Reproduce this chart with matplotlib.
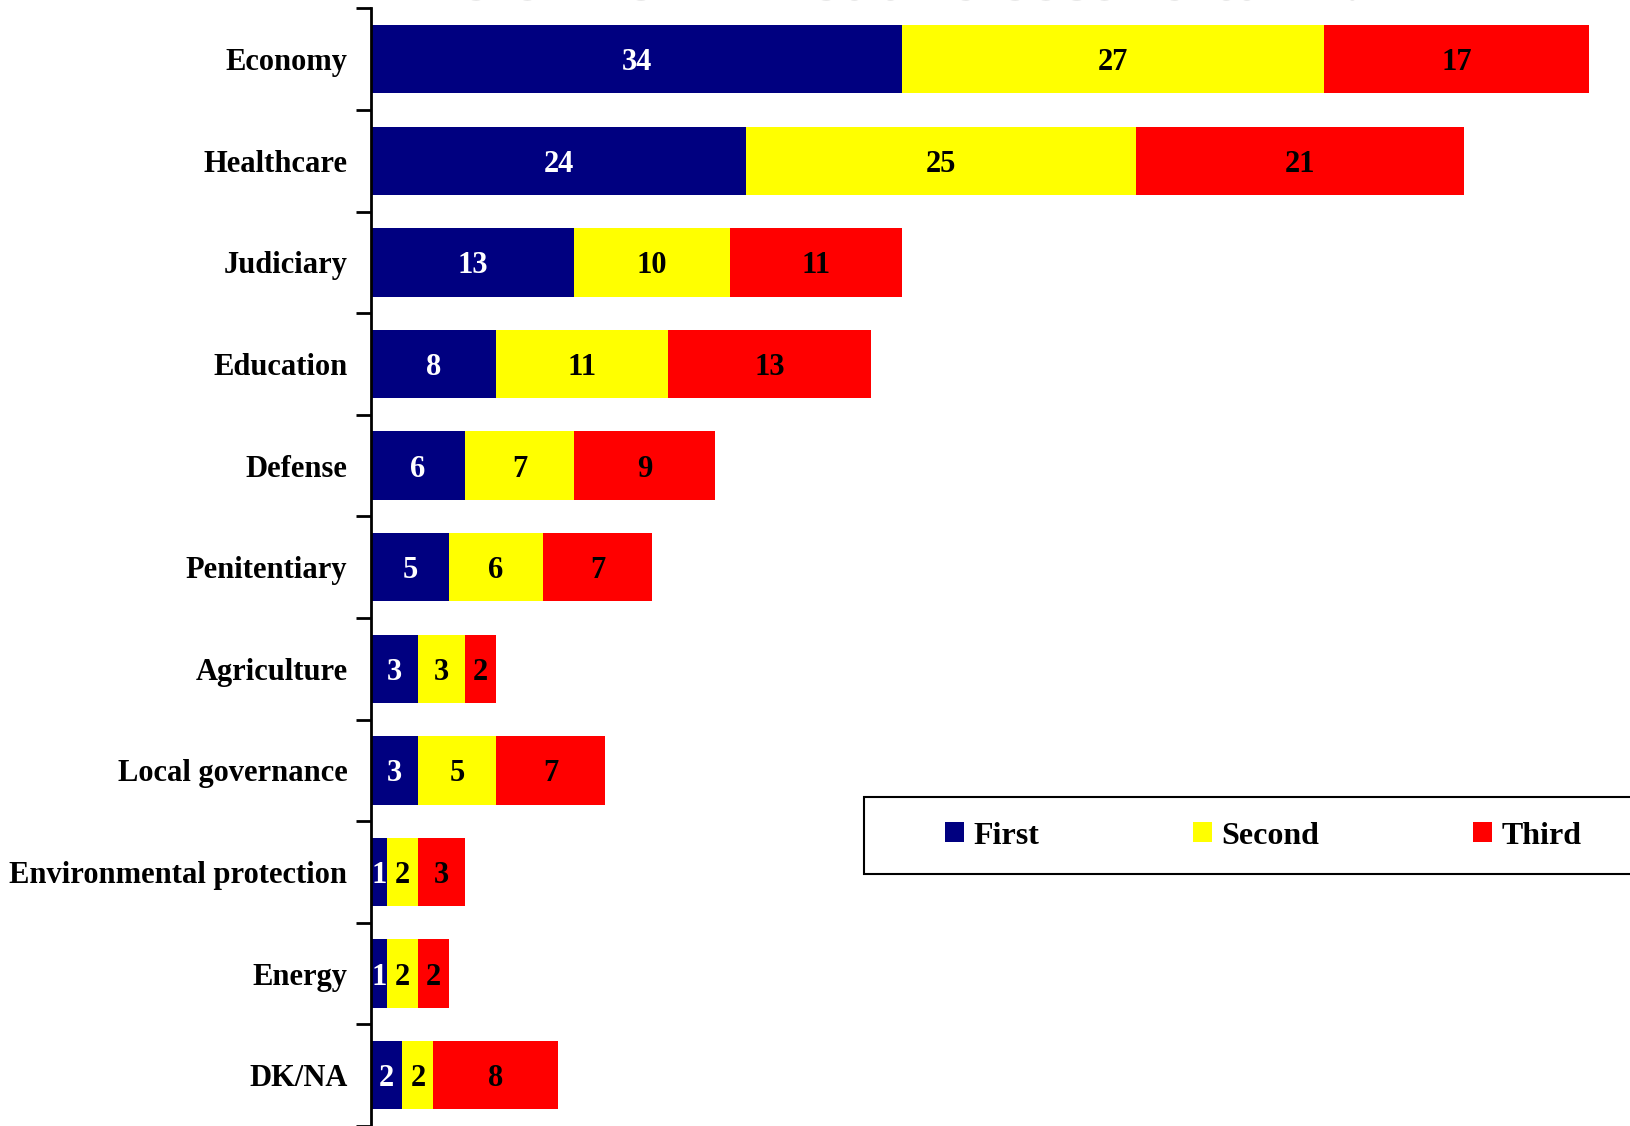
import matplotlib
matplotlib.use("Agg")
import matplotlib.pyplot as plt
import numpy as np
from matplotlib.patches import Patch, Rectangle

categories = ["Economy", "Healthcare", "Judiciary", "Education", "Defense",
              "Penitentiary", "Agriculture", "Local governance",
              "Environmental protection", "Energy", "DK/NA"]
first = [34, 24, 13, 8, 6, 5, 3, 3, 1, 1, 2]
second = [27, 25, 10, 11, 7, 6, 3, 5, 2, 2, 2]
third = [17, 21, 11, 13, 9, 7, 2, 7, 3, 2, 8]
series_names = ["First", "Second", "Third"]
title_text = "Reforms in first and second turn?"

colors = ["#000080", "#FFFF00", "#FF0000"]
text_colors = ["white", "black", "black"]
font = "Liberation Serif"

W, H = 1631, 1126
fig = plt.figure(figsize=(W / 100, H / 100), dpi=100)
left = 371 / W
ax = fig.add_axes([left, 0.0, 1 - left, 1 - 8.4 / H])

n = len(categories)
y = np.arange(n)
series = [first, second, third]
base = np.zeros(n)
for vals, c, tc in zip(series, colors, text_colors):
    vals = np.array(vals, dtype=float)
    ax.barh(y, vals, left=base, height=0.674, color=c, edgecolor="none")
    for yi, b0, v in zip(y, base, vals):
        ax.text(b0 + v / 2, yi, f"{int(v)}", ha="center", va="center_baseline",
                color=tc, fontsize=22, fontweight="bold", family=font)
    base += vals

ax.set_ylim(n - 0.5, -0.5)
ax.set_xlim(0, (W - 371) / 15.62)

ax.set_yticks(np.arange(-0.5, n, 1.0))
ax.set_yticklabels([])
ax.set_yticks(y, minor=True)
ax.set_yticklabels(categories, minor=True, fontsize=22, fontweight="bold", family=font)
ax.tick_params(axis="y", which="major", length=11, width=2, direction="out")
ax.tick_params(axis="y", which="minor", length=0, pad=17)
ax.set_xticks([])
for s in ["top", "right", "bottom"]:
    ax.spines[s].set_visible(False)
ax.spines["left"].set_linewidth(2)

# legend frame (extends past right edge like the reference)
fig.patches.append(Rectangle((864 / W, 1 - 874 / H), (1700 - 864) / W, 77 / H,
                             transform=fig.transFigure, facecolor="white",
                             edgecolor="black", linewidth=1.5, zorder=5))
handles = [Patch(facecolor=c, edgecolor="none") for c in colors]
leg = fig.legend(handles, series_names, ncol=3,
                 bbox_to_anchor=(945 / W, 1 - 836 / H),
                 loc="center left", frameon=False,
                 handlelength=0.6, handleheight=0.6,
                 handletextpad=0.3, columnspacing=4.8, borderpad=0, borderaxespad=0,
                 prop={"family": font, "weight": "bold", "size": 23})
leg.set_zorder(6)

fig.text(891 / W, 1 + 1 / H, title_text, ha="center", va="baseline",
         color="#d0d0d0", fontsize=48, fontweight="bold", family=font)

fig.savefig("out.png", dpi=100)
